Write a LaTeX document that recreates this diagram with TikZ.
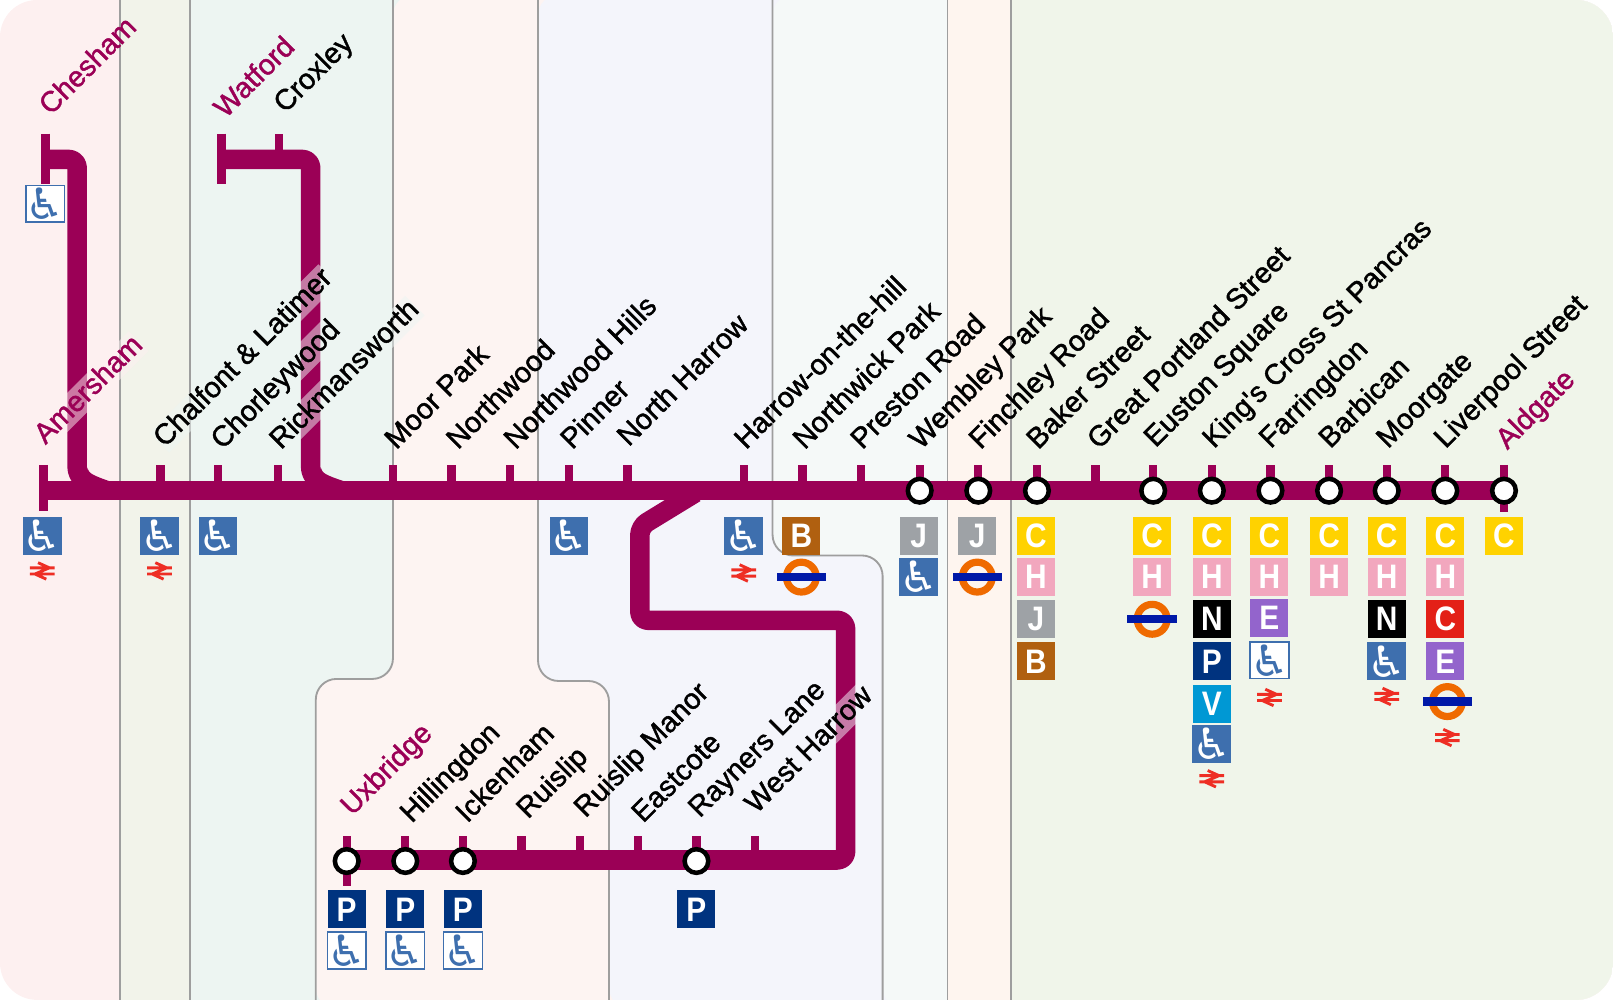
\documentclass[tikz,border=0pt]{standalone}
\usepackage{fontspec}
\setmainfont{Liberation Sans}
\newfontfamily\stnfont[FakeBold=1.5]{Liberation Sans}
\newfontfamily\tilefont[FakeStretch=0.88]{Liberation Sans}
\newfontfamily\symfont{DejaVu Sans}
\definecolor{met}{HTML}{9B0056}
\definecolor{zoneA}{HTML}{FDF0F0}
\definecolor{zoneB}{HTML}{F2F3EA}
\definecolor{zoneC}{HTML}{EDF5F2}
\definecolor{zoneD}{HTML}{FDF4F2}
\definecolor{zoneE}{HTML}{F4F5FB}
\definecolor{zoneF}{HTML}{F5F9F8}
\definecolor{zoneG}{HTML}{FEF5EF}
\definecolor{zoneH}{HTML}{F0F5EA}
\definecolor{wheelblue}{HTML}{3E6FAE}
\definecolor{railred}{HTML}{EE2E24}
\definecolor{ringorange}{HTML}{EF6A00}
\definecolor{barblue}{HTML}{0019A8}
\tikzset{
  edgeline/.style={draw=black!38,line width=.9pt,rounded corners=10pt},
  metline/.style={met,line width=9.5pt,rounded corners=4pt,line join=round},
  termline/.style={met,line width=4.4pt},
  tickline/.style={met,line width=4pt},
  change/.style={circle,draw=black,fill=white,line width=2.2pt,minimum size=11.5pt,inner sep=0pt},
  stn/.style={rotate=45,anchor=base west,inner sep=0pt,font=\stnfont\fontsize{14}{14}\selectfont},
  stnend/.style={stn,text=met},
  halo/.style={fill=#1,fill opacity=.5,text opacity=1,text height=10.5pt,text depth=3pt},
  tile/.style={minimum width=18.5pt,minimum height=18.5pt,inner sep=0pt,text=white,
    font=\tilefont\bfseries\fontsize{16.5}{16.5}\selectfont},
  lineC/.style={tile,fill={rgb,255:red,255;green,210;blue,0}},
  lineH/.style={tile,fill={rgb,255:red,242;green,167;blue,190}},
  lineJ/.style={tile,fill={rgb,255:red,158;green,162;blue,166}},
  lineB/.style={tile,fill={rgb,255:red,176;green,96;blue,16}},
  lineN/.style={tile,fill=black},
  lineP/.style={tile,fill={rgb,255:red,0;green,51;blue,127}},
  lineV/.style={tile,fill={rgb,255:red,0;green,152;blue,212}},
  lineE/.style={tile,fill={rgb,255:red,147;green,100;blue,204}},
  lineR/.style={tile,fill={rgb,255:red,227;green,32;blue,23}},
  wheel/.style={tile,fill=wheelblue,font=\symfont\fontsize{21}{21}\selectfont},
  wheelopen/.style={wheel,fill=white,text=wheelblue,draw=wheelblue,line width=.7pt,
    minimum width=17.8pt,minimum height=17.8pt},
  railsign/.pic={
    \draw[railred,line width=1.4pt] (-12,-3) -- (12,-3) (-12,3) -- (12,3)
      (-4,-8) -- (7,-3) -- (-7,3) -- (4,8);
  },
  roundel/.pic={
    \node[circle,draw=ringorange,line width=3.5pt,minimum size=14.5pt,inner sep=0pt] (-ring) at (0,0) {};
    \node[fill=barblue,minimum width=24pt,minimum height=4pt,inner sep=0pt] (-bar) at (0,0) {};
  }
}
\begin{document}
\begin{tikzpicture}[x=.5pt,y=-.5pt]
  \useasboundingbox (0,0) rectangle (1568,972);
  \def\edgeD{(382,-5) -- (382,660) -- (307,660) -- (307,980)}
  \def\edgeE{(523,-5) -- (523,662) -- (592,662) -- (592,980)}
  \def\edgeF{(751,-5) -- (751,540) -- (858,540) -- (858,980)}
  \begin{scope}
    \clip[rounded corners=18pt] (0,0) rectangle (1568,972);
    % fare zones, each one painted over the rest to its right
    \fill[zoneA] (0,0) rectangle (1568,972);
    \fill[zoneB] (117,0) rectangle (1568,972);
    \fill[zoneC] (185,0) rectangle (1568,972);
    \fill[zoneD,rounded corners=10pt] \edgeD -- (1600,980) -- (1600,-5) -- cycle;
    \fill[zoneE,rounded corners=10pt] \edgeE -- (1600,980) -- (1600,-5) -- cycle;
    \fill[zoneF,rounded corners=10pt] \edgeF -- (1600,980) -- (1600,-5) -- cycle;
    \fill[zoneG] (921,0) rectangle (1568,972);
    \fill[zoneH] (983,0) rectangle (1568,972);
    \draw[edgeline] (117,-5) -- (117,980) (185,-5) -- (185,980);
    \draw[edgeline] \edgeD;
    \draw[edgeline] \edgeE;
    \draw[edgeline] \edgeF;
    \draw[edgeline] (921,-5) -- (921,980) (983,-5) -- (983,980);
  \end{scope}

  % stops on the main line
  \coordinate (amersham) at (42,477);
  \coordinate (chalfont) at (156,477);
  \coordinate (chorleywood) at (212,477);
  \coordinate (rickmansworth) at (270,477);
  \coordinate (moorpark) at (382,477);
  \coordinate (northwood) at (439,477);
  \coordinate (nwdhills) at (496,477);
  \coordinate (pinner) at (553,477);
  \coordinate (northharrow) at (610,477);
  \coordinate (harrow) at (723,477);
  \coordinate (northwick) at (780,477);
  \coordinate (preston) at (837,477);
  \coordinate (wembley) at (894,477);
  \coordinate (finchley) at (951,477);
  \coordinate (baker) at (1008,477);
  \coordinate (portland) at (1065,477);
  \coordinate (euston) at (1121,477);
  \coordinate (kings) at (1178,477);
  \coordinate (farringdon) at (1235,477);
  \coordinate (barbican) at (1292,477);
  \coordinate (moorgate) at (1348,477);
  \coordinate (liverpool) at (1405,477);
  \coordinate (aldgate) at (1462,477);
  % stops on the branches
  \coordinate (chesham) at (44,155);
  \coordinate (watford) at (215,155);
  \coordinate (croxley) at (271,155);
  \coordinate (uxbridge) at (337,837);
  \coordinate (hillingdon) at (394,837);
  \coordinate (ickenham) at (450,837);
  \coordinate (ruislip) at (507,837);
  \coordinate (ruislipmanor) at (564,837);
  \coordinate (eastcote) at (620,837);
  \coordinate (rayners) at (677,837);
  \coordinate (westharrow) at (734,837);

  \draw[tickline] (chalfont) -- ++(0,-25) (chorleywood) -- ++(0,-25) (rickmansworth) -- ++(0,-25)
    (moorpark) -- ++(0,-25) (northwood) -- ++(0,-25) (nwdhills) -- ++(0,-25) (pinner) -- ++(0,-25)
    (northharrow) -- ++(0,-25) (harrow) -- ++(0,-25) (northwick) -- ++(0,-25) (preston) -- ++(0,-25)
    (wembley) -- ++(0,-25) (finchley) -- ++(0,-25) (baker) -- ++(0,-25) (portland) -- ++(0,-25)
    (euston) -- ++(0,-25) (kings) -- ++(0,-25) (farringdon) -- ++(0,-25) (barbican) -- ++(0,-25)
    (moorgate) -- ++(0,-25) (liverpool) -- ++(0,-25);
  \draw[tickline] (aldgate) ++(0,-25) -- ++(0,46);
  \draw[tickline] (croxley) -- ++(0,-25);
  \draw[tickline] (hillingdon) -- ++(0,-24) (ickenham) -- ++(0,-24) (ruislip) -- ++(0,-24)
    (ruislipmanor) -- ++(0,-24) (eastcote) -- ++(0,-24) (rayners) -- ++(0,-24) (westharrow) -- ++(0,-24);
  \draw[tickline] (uxbridge) ++(0,-24) -- ++(0,48);
  \draw[termline] (amersham) ++(0,-25) -- ++(0,45);
  \draw[termline] (chesham) ++(0,-25) -- ++(0,49);
  \draw[termline] (watford) ++(0,-25) -- ++(0,49);

  % the lines
  \draw[metline] (amersham) -- (aldgate);
  \draw[metline] (chesham) -- (75,155) -- (75,446) .. controls (75,462) and (82,471) .. (95,475);
  \fill[met] (85,455) .. controls (86,460) and (90,462) .. (107,468) -- (85,470) -- cycle;
  \draw[metline] (watford) -- (302,155) -- (302,446) .. controls (302,462) and (309,471) .. (322,475);
  \fill[met] (312,455) .. controls (313,460) and (317,462) .. (335,468) -- (312,470) -- cycle;
  \draw[metline] (676,479) -- (622,512) -- (622,603) -- (822,603) -- (822,836) -- (uxbridge |- 0,836);

  % interchanges
  \node[change] (wembleyStn) at (wembley) {};
  \node[change] (finchleyStn) at (finchley) {};
  \node[change] (bakerStn) at (baker) {};
  \node[change] (eustonStn) at (euston) {};
  \node[change] (kingsStn) at (kings) {};
  \node[change] (farringdonStn) at (farringdon) {};
  \node[change] (barbicanStn) at (barbican) {};
  \node[change] (moorgateStn) at (moorgate) {};
  \node[change] (liverpoolStn) at (liverpool) {};
  \node[change] (aldgateStn) at (aldgate) {};
  \node[change] (uxbridgeStn) at (uxbridge) {};
  \node[change] (hillingdonStn) at (hillingdon) {};
  \node[change] (ickenhamStn) at (ickenham) {};
  \node[change] (raynersStn) at (rayners) {};

  % names
  \node[stnend] (cheshamName) at (49,113) {Chesham};
  \node[stnend] (watfordName) at (219,116) {Watford};
  \node[stn] (croxleyName) at (277,111) {Croxley};
  \node[stnend,halo=zoneA] (amershamName) at (44,433) {Amersham};
  \node[stn,halo=zoneC] (chalfontName) at (160,436) {Chalfont \& Latimer};
  \node[stn,halo=zoneC] (chorleywoodName) at (216,438) {Chorleywood};
  \node[stn,halo=zoneC] (rickmansworthName) at (273,438) {Rickmansworth};
  \node[stn] (moorparkName) at (385,438) {Moor Park};
  \node[stn] (northwoodName) at (445,438) {Northwood};
  \node[stn] (nwdhillsName) at (501,438) {Northwood Hills};
  \node[stn] (pinnerName) at (556,438) {Pinner};
  \node[stn] (northharrowName) at (611,435) {North Harrow};
  \node[stn] (harrowName) at (725,438) {Harrow-on-the-hill};
  \node[stn] (northwickName) at (782,438) {Northwick Park};
  \node[stn] (prestonName) at (838,438) {Preston Road};
  \node[stn] (wembleyName) at (895,438) {Wembley Park};
  \node[stn] (finchleyName) at (953,438) {Finchley Road};
  \node[stn] (bakerName) at (1009,438) {Baker Street};
  \node[stn] (portlandName) at (1068,438) {Great Portland Street};
  \node[stn] (eustonName) at (1123,436) {Euston Square};
  \node[stn] (kingsName) at (1180,437) {King's Cross St Pancras};
  \node[stn] (farringdonName) at (1235,437) {Farringdon};
  \node[stn] (barbicanName) at (1293,437) {Barbican};
  \node[stn] (moorgateName) at (1349,437) {Moorgate};
  \node[stn] (liverpoolName) at (1405,437) {Liverpool Street};
  \node[stnend] (aldgateName) at (1465,438) {Aldgate};
  \node[stnend] (uxbridgeName) at (342,794) {Uxbridge};
  \node[stn] (hillingdonName) at (400,801) {Hillingdon};
  \node[stn] (ickenhamName) at (454,801) {Ickenham};
  \node[stn] (ruislipName) at (513,797) {Ruislip};
  \node[stn] (ruislipmanorName) at (569,796) {Ruislip Manor};
  \node[stn] (eastcoteName) at (625,801) {Eastcote};
  \node[stn] (raynersName) at (680,796) {Rayners Lane};
  \node[stn,halo=zoneE] (westharrowName) at (735,792) {West Harrow};

  % what each stop offers
  \node[wheelopen] (cheshamWheel) at (44,198) {♿};
  \node[wheel] (amershamWheel) at (41,521) {♿};
  \pic (amershamRail) at (41,555) {railsign};
  \node[wheel] (chalfontWheel) at (155,521) {♿};
  \pic (chalfontRail) at (155,555) {railsign};
  \node[wheel] (chorleywoodWheel) at (212,521) {♿};
  \node[wheel] (pinnerWheel) at (553,521) {♿};
  \node[wheel] (harrowWheel) at (723,521) {♿};
  \pic (harrowRail) at (723,557) {railsign};
  \node[lineB] (northwickB) at (779,521) {B};
  \pic (northwickRoundel) at (779,561) {roundel};
  \node[lineJ] (wembleyJ) at (893,521) {J};
  \node[wheel] (wembleyWheel) at (893,561) {♿};
  \node[lineJ] (finchleyJ) at (950,521) {J};
  \pic (finchleyRoundel) at (950,561) {roundel};
  \node[lineC] (bakerC) at (1007,521) {C};
  \node[lineH] (bakerH) at (1007,561) {H};
  \node[lineJ] (bakerJ) at (1007,602) {J};
  \node[lineB] (bakerB) at (1007,643) {B};
  \node[lineC] (eustonC) at (1120,521) {C};
  \node[lineH] (eustonH) at (1120,561) {H};
  \pic (eustonRoundel) at (1120,602) {roundel};
  \node[lineC] (kingsC) at (1178,521) {C};
  \node[lineH] (kingsH) at (1178,561) {H};
  \node[lineN] (kingsN) at (1178,602) {N};
  \node[lineP] (kingsP) at (1178,643) {P};
  \node[lineV] (kingsV) at (1178,684) {V};
  \node[wheel] (kingsWheel) at (1178,723) {♿};
  \pic (kingsRail) at (1178,757) {railsign};
  \node[lineC] (farringdonC) at (1234,521) {C};
  \node[lineH] (farringdonH) at (1234,561) {H};
  \node[lineE] (farringdonE) at (1234,601) {E};
  \node[wheelopen] (farringdonWheel) at (1234,642) {♿};
  \pic (farringdonRail) at (1234,678) {railsign};
  \node[lineC] (barbicanC) at (1292,521) {C};
  \node[lineH] (barbicanH) at (1292,561) {H};
  \node[lineC] (moorgateC) at (1348,521) {C};
  \node[lineH] (moorgateH) at (1348,561) {H};
  \node[lineN] (moorgateN) at (1348,602) {N};
  \node[wheel] (moorgateWheel) at (1348,643) {♿};
  \pic (moorgateRail) at (1348,677) {railsign};
  \node[lineC] (liverpoolC) at (1405,521) {C};
  \node[lineH] (liverpoolH) at (1405,561) {H};
  \node[lineR] (liverpoolR) at (1405,602) {C};
  \node[lineE] (liverpoolE) at (1405,643) {E};
  \pic (liverpoolRoundel) at (1407,682) {roundel};
  \pic (liverpoolRail) at (1407,717) {railsign};
  \node[lineC] (aldgateC) at (1462,521) {C};
  \node[lineP] (uxbridgeP) at (337,884) {P};
  \node[wheelopen] (uxbridgeWheel) at (337,924) {♿};
  \node[lineP] (hillingdonP) at (394,884) {P};
  \node[wheelopen] (hillingdonWheel) at (394,924) {♿};
  \node[lineP] (ickenhamP) at (450,884) {P};
  \node[wheelopen] (ickenhamWheel) at (450,924) {♿};
  \node[lineP] (raynersP) at (677,884) {P};
\end{tikzpicture}
\end{document}
